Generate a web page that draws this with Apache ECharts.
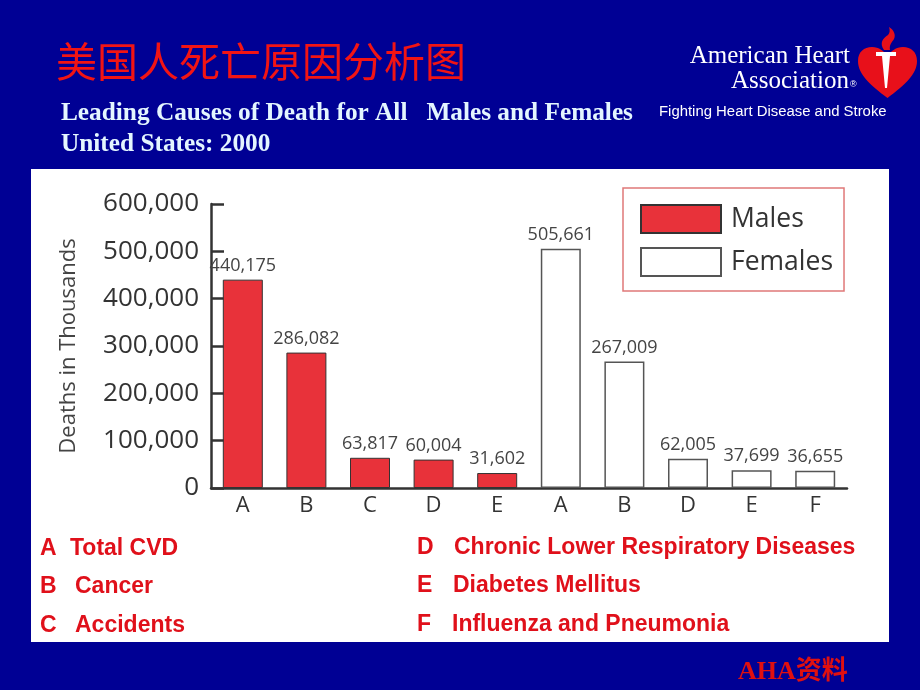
<!DOCTYPE html>
<html>
<head>
<meta charset="utf-8">
<script src="https://cdn.jsdelivr.net/npm/echarts@6/dist/echarts.min.js"></script>
<style>
html,body{margin:0;padding:0;background:#000094;}
#chart{width:920px;height:690px;}
</style>
</head>
<body>
<div id="chart"></div>
<script>
// ---- data ----
const categories = ['A', 'B', 'C', 'D', 'E', 'A', 'B', 'D', 'E', 'F'];
const males   = [440175, 286082, 63817, 60004, 31602, '-', '-', '-', '-', '-'];
const females = ['-', '-', '-', '-', '-', 505661, 267009, 62005, 37699, 36655];
const yTicks = [0, 100000, 200000, 300000, 400000, 500000, 600000];
const seriesNames = ['Males', 'Females'];
const yAxisTitle = 'Deaths in Thousands';
const mainTitle = '美国人死亡原因分析图';
const subTitleLines = ['Leading Causes of Death for All   Males and Females', 'United States: 2000'];
const keyLeft = [['A', 'Total CVD'], ['B', 'Cancer'], ['C', 'Accidents']];
const keyRight = [['D', 'Chronic Lower Respiratory Diseases'], ['E', 'Diabetes Mellitus'], ['F', 'Influenza and Pneumonia']];
const sourceNote = 'AHA资料';

const fmt = v => Number(v).toLocaleString('en-US');
const chartFont = '"Open Sans", "Noto Sans", sans-serif';

// logo shapes (decoration)
echarts.graphic.registerShape('ahaHeart', echarts.graphic.extendPath(
  'M887.5,98 C870,85 858,74 858,61 C858,52 864,47 872,47 C879,47 884,51 887.5,56 C891,51 896,47 903,47 C911,47 917,52 917,61 C917,74 905,85 887.5,98 Z', {}));
echarts.graphic.registerShape('ahaFlame', echarts.graphic.extendPath(
  'M884,50 C879,43 883,38 888,35 C890,33 890,30 889,27 C894,30 896,35 894,39 C892,42 889,45 890,50 Z', {}));

const chart = echarts.init(document.getElementById('chart'));

const keyFont = 'bold 23px "Liberation Sans", Arial, sans-serif';
const graphics = [
  { type: 'rect', z: -10, shape: { x: 31, y: 169, width: 858, height: 473 }, style: { fill: '#ffffff' } },
  // AHA logo text
  { type: 'text', style: { text: 'American Heart', x: 850, y: 56, align: 'right', verticalAlign: 'middle', fill: '#ffffff', font: '25px "Liberation Serif", "Times New Roman", serif' } },
  { type: 'text', style: { text: 'Association', x: 849, y: 81, align: 'right', verticalAlign: 'middle', fill: '#ffffff', font: '25px "Liberation Serif", "Times New Roman", serif' } },
  { type: 'text', style: { text: '®', x: 850, y: 85, align: 'left', verticalAlign: 'middle', fill: '#ffffff', font: '9px "Liberation Sans", Arial, sans-serif' } },
  { type: 'text', style: { text: 'Fighting Heart Disease and Stroke', x: 659, y: 112, align: 'left', verticalAlign: 'middle', fill: '#ffffff', font: '14.9px "Liberation Sans", Arial, sans-serif' } },
  // heart logo
  { type: 'ahaHeart', shape: {}, style: { fill: '#e8101a' } },
  { type: 'ahaFlame', shape: {}, style: { fill: '#e8101a' } },
  { type: 'polygon', shape: { points: [[876, 52], [896, 52], [896, 56], [890, 56], [887, 88], [885, 88], [882, 56], [876, 56]] }, style: { fill: '#ffffff' } },
  // source
  { type: 'text', style: { text: sourceNote, x: 738, y: 672, align: 'left', verticalAlign: 'middle', fill: '#e01010', font: 'bold 26px "Liberation Serif", "Times New Roman", "Noto Sans CJK SC", serif' } }
];

const keyYs = [549, 587, 626];
const keyYsR = [548, 586, 625];
const leftDescX = [70, 75, 75];
const rightDescX = [454, 453, 452];
keyLeft.forEach((k, i) => {
  graphics.push({ type: 'text', style: { text: k[0], x: 40, y: keyYs[i], verticalAlign: 'middle', fill: '#e0101a', font: keyFont } });
  graphics.push({ type: 'text', style: { text: k[1], x: leftDescX[i], y: keyYs[i], verticalAlign: 'middle', fill: '#e0101a', font: keyFont } });
});
keyRight.forEach((k, i) => {
  graphics.push({ type: 'text', style: { text: k[0], x: 417, y: keyYsR[i], verticalAlign: 'middle', fill: '#e0101a', font: keyFont } });
  graphics.push({ type: 'text', style: { text: k[1], x: rightDescX[i], y: keyYsR[i], verticalAlign: 'middle', fill: '#e0101a', font: keyFont } });
});

const option = {
  backgroundColor: '#000094',
  animation: false,
  title: [
    {
      text: mainTitle, left: 51, top: 35,
      textStyle: { color: '#f21414', fontSize: 41, fontWeight: 'normal', fontFamily: '"Noto Sans CJK SC", sans-serif', lineHeight: 42,
        textShadowColor: '#3a0000', textShadowOffsetX: 2, textShadowOffsetY: 2, textShadowBlur: 0 }
    },
    {
      text: subTitleLines.join('\n'), left: 56, top: 93,
      textStyle: { color: '#e4f6ff', fontSize: 25.3, fontWeight: 'bold', fontFamily: '"Liberation Serif", "Times New Roman", serif', lineHeight: 31 }
    }
  ],
  graphic: graphics,
  legend: {
    left: 623, top: 188, orient: 'vertical',
    padding: [16, 11, 14, 17],
    itemWidth: 80, itemHeight: 28, itemGap: 13,
    icon: 'rect',
    borderColor: '#e07878', borderWidth: 1.5,
    textStyle: { color: '#333', fontSize: 26.5, fontFamily: chartFont, padding: [0, 0, 0, 5] },
    data: seriesNames
  },
  grid: { left: 211, right: 73, top: 204, bottom: 202, containLabel: false },
  xAxis: {
    type: 'category', data: categories,
    axisLine: { lineStyle: { color: '#333', width: 2.5 } },
    axisTick: { show: false },
    axisLabel: { color: '#333', fontSize: 22, fontFamily: chartFont, margin: 7 }
  },
  yAxis: {
    type: 'value', min: 0, max: yTicks[yTicks.length - 1], interval: yTicks[1] - yTicks[0],
    name: yAxisTitle, nameLocation: 'middle', nameGap: 131, nameRotate: 90,
    nameTextStyle: { color: '#444', fontSize: 22, fontFamily: chartFont },
    axisLine: { show: true, lineStyle: { color: '#333', width: 2.5 } },
    axisTick: { show: true, inside: true, length: 13, lineStyle: { color: '#333', width: 2.5 } },
    splitLine: { show: false },
    axisLabel: { color: '#333', fontSize: 26, fontFamily: chartFont, margin: 12, formatter: v => fmt(v) }
  },
  series: [
    {
      name: seriesNames[0], type: 'bar', data: males, barWidth: 40, barGap: '-100%',
      itemStyle: { color: '#e8323a', borderColor: '#333', borderWidth: 1 },
      label: { show: true, position: 'top', distance: 5, color: '#444', fontSize: 18, fontFamily: chartFont, formatter: p => fmt(p.value) }
    },
    {
      name: seriesNames[1], type: 'bar', data: females, barWidth: 40, barGap: '-100%',
      itemStyle: { color: '#ffffff', borderColor: '#555', borderWidth: 1.5 },
      label: { show: true, position: 'top', distance: 5, color: '#444', fontSize: 18, fontFamily: chartFont, formatter: p => fmt(p.value) }
    }
  ]
};
chart.setOption(option);
</script>
</body>
</html>
